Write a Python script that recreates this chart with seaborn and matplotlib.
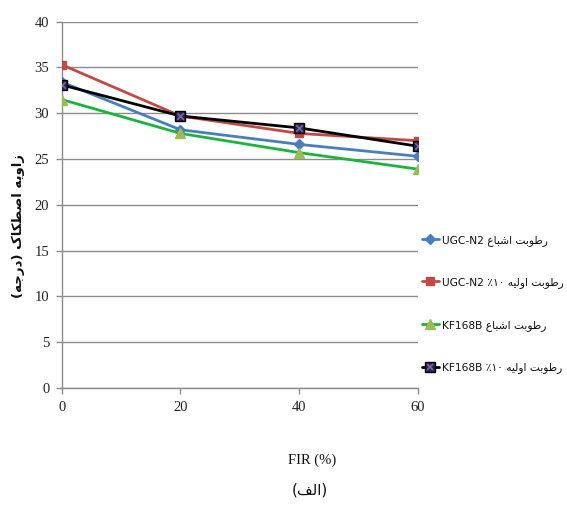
import matplotlib
matplotlib.use("Agg")
import matplotlib.pyplot as plt
from matplotlib.lines import Line2D
import seaborn as sns
import pandas as pd

# ---- data ----
fir = [0, 20, 40, 60]
ugc_saturated = [33.4, 28.2, 26.6, 25.3]
ugc_initial10 = [35.3, 29.7, 27.8, 27.0]
kf_saturated = [31.5, 27.8, 25.7, 23.9]
kf_initial10 = [33.1, 29.7, 28.4, 26.4]
y_ticks = [0, 5, 10, 15, 20, 25, 30, 35, 40]
x_ticks = [0, 20, 40, 60]

# ---- minimal Persian shaping (presentation forms + visual order) ----
# letter: (isolated, final, initial, medial); right-joining letters have no initial/medial
FORMS = {
    "ا": ("\uFE8D", "\uFE8E", None, None),
    "ب": ("\uFE8F", "\uFE90", "\uFE91", "\uFE92"),
    "ت": ("\uFE95", "\uFE96", "\uFE97", "\uFE98"),
    "ج": ("\uFE9D", "\uFE9E", "\uFE9F", "\uFEA0"),
    "د": ("\uFEA9", "\uFEAA", None, None),
    "ر": ("\uFEAD", "\uFEAE", None, None),
    "ز": ("\uFEAF", "\uFEB0", None, None),
    "ش": ("\uFEB5", "\uFEB6", "\uFEB7", "\uFEB8"),
    "ص": ("\uFEB9", "\uFEBA", "\uFEBB", "\uFEBC"),
    "ط": ("\uFEC1", "\uFEC2", "\uFEC3", "\uFEC4"),
    "ع": ("\uFEC9", "\uFECA", "\uFECB", "\uFECC"),
    "ف": ("\uFED1", "\uFED2", "\uFED3", "\uFED4"),
    "ل": ("\uFEDD", "\uFEDE", "\uFEDF", "\uFEE0"),
    "ه": ("\uFEE9", "\uFEEA", "\uFEEB", "\uFEEC"),
    "و": ("\uFEED", "\uFEEE", None, None),
    "ی": ("\uFBFC", "\uFBFD", "\uFBFE", "\uFBFF"),
    "ک": ("\uFB8E", "\uFB8F", "\uFB90", "\uFB91"),
}


def _dual(c):
    return c in FORMS and FORMS[c][2] is not None


def fa(word):
    """Shape a Persian word and return it in left-to-right visual order."""
    out = []
    for i, c in enumerate(word):
        if c not in FORMS:
            out.append(c)
            continue
        prev = word[i - 1] if i > 0 else ""
        nxt = word[i + 1] if i + 1 < len(word) else ""
        jp = _dual(prev)
        jn = _dual(c) and nxt in FORMS
        iso, fin, ini, med = FORMS[c]
        if jp and jn:
            out.append(med)
        elif jp:
            out.append(fin)
        elif jn:
            out.append(ini)
        else:
            out.append(iso)
    return "".join(reversed(out))


def fa_phrase(*words):
    # words given in reading order; displayed right to left
    return " ".join(fa(w) for w in reversed(words))


pct10 = "\u066A\u06F1\u06F0"  # ٪۱۰ as displayed
labels = [
    "UGC-N2 " + fa_phrase("رطوبت", "اشباع"),
    "UGC-N2 " + pct10 + " " + fa_phrase("رطوبت", "اولیه"),
    "KF168B " + fa_phrase("رطوبت", "اشباع"),
    "KF168B " + pct10 + " " + fa_phrase("رطوبت", "اولیه"),
]
ylabel = "(" + fa("درجه") + ") " + fa_phrase("زاویه", "اصطکاک")
caption = "(" + fa("الف") + ")"

df = pd.DataFrame({"FIR": fir, "ugc_sat": ugc_saturated, "ugc_i10": ugc_initial10,
                   "kf_sat": kf_saturated, "kf_i10": kf_initial10})

# ---- styling ----
sns.set_theme(style="white")
plt.rcParams["font.family"] = ["DejaVu Sans"]

fig = plt.figure(figsize=(5.67, 5.16), dpi=100)
ax = fig.add_axes([0.109, 0.248, 0.628, 0.710])

series = [
    ("ugc_sat", "#4A7EBB", "#4A7EBB", "D", 5.0),
    ("ugc_i10", "#BE4B48", "#BE4B48", "s", 5.5),
    ("kf_sat", "#1DB33F", "#9BBB59", "^", 6.5),
    ("kf_i10", "#000000", "#2A2450", "s", 6.5),
]
handles = []
for (col, lc, mc, mk, ms), lab in zip(series, labels):
    edge = "#000000" if col == "kf_i10" else mc
    sns.lineplot(data=df, x="FIR", y=col, ax=ax, color=lc, lw=2.0, marker=mk,
                 markersize=ms, markerfacecolor=mc, markeredgecolor=edge,
                 markeredgewidth=1.0, zorder=3)
    h = Line2D([], [], color=lc, lw=2.0, marker=mk, markersize=ms,
               markerfacecolor=mc, markeredgecolor=edge)
    if col == "kf_i10":
        hx = Line2D([], [], ls="none", marker="x", markersize=4.5,
                    markeredgecolor="#8064A2", markeredgewidth=1.2)
        handles.append((h, hx))
    else:
        handles.append(h)

# purple cross inside the black series markers
sns.scatterplot(data=df, x="FIR", y="kf_i10", ax=ax, marker="x", s=22,
                color="#8064A2", linewidth=1.2, zorder=4, legend=False)

ax.set_xlim(0, 60)
ax.set_ylim(0, 40)
ax.set_xticks(x_ticks)
ax.set_yticks(y_ticks)
ax.yaxis.grid(True, color="#8C8C8C", lw=1.0)
ax.xaxis.grid(False)
for s in ["top", "right"]:
    ax.spines[s].set_visible(False)
for s in ["left", "bottom"]:
    ax.spines[s].set_color("#8C8C8C")
    ax.spines[s].set_linewidth(1.0)
ax.tick_params(axis="both", which="both", direction="out", length=4, width=1.0,
               color="#8C8C8C", labelsize=10.5, labelcolor="#222222", pad=5,
               left=True, bottom=True)
for t in ax.get_xticklabels() + ax.get_yticklabels():
    t.set_fontfamily("Liberation Serif")
ax.set_xlabel("")
ax.set_ylabel("")
ax.set_facecolor("white")

fig.text(312 / 567, 1 - 460 / 516, "FIR (%)", ha="center", va="center",
         fontsize=10.5, family="Liberation Serif", color="#111111")
fig.text(310 / 567, 1 - 490 / 516, caption, ha="center", va="center",
         fontsize=11, family="DejaVu Sans", color="#111111")
fig.text(18 / 567, 1 - 226 / 516, ylabel, ha="center", va="center",
         rotation=90, fontsize=9.5, fontweight="bold", family="DejaVu Sans",
         color="#111111")

leg = fig.legend(handles, labels, loc="center left",
                 bbox_to_anchor=(0.744, 1 - 304 / 516), frameon=False,
                 fontsize=7.7, handlelength=1.6, handletextpad=0.25,
                 labelspacing=2.95, borderaxespad=0, borderpad=0)
for t in leg.get_texts():
    t.set_color("#111111")

fig.savefig("out.png", dpi=100, facecolor="white")
